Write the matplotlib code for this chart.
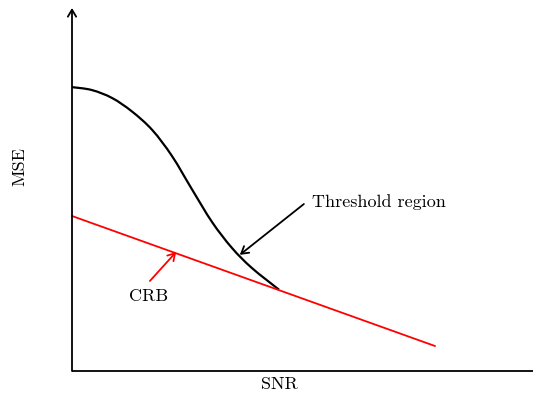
import matplotlib
matplotlib.use("Agg")
import matplotlib.pyplot as plt
from matplotlib.path import Path
from matplotlib.patches import PathPatch

# Data (arbitrary units)
mse_x = [0.0, 0.43, 0.87, 1.30, 1.74, 2.17, 2.60, 3.04, 3.47, 3.90, 4.49]
mse_y = [7.82, 7.74, 7.52, 7.15, 6.64, 5.92, 5.01, 4.10, 3.39, 2.84, 2.24]
crb_x = [0.0, 7.87]
crb_y = [4.27, 0.69]

labels = {"x": "SNR", "y": "MSE", "thr": "Threshold region", "crb": "CRB"}

plt.rcParams['font.family'] = ['cmr10', 'DejaVu Serif']
plt.rcParams['axes.formatter.use_mathtext'] = True


def smooth_path(xs, ys):
    """Catmull-Rom curve through the given points, as cubic Bezier segments."""
    pts = list(zip(xs, ys))
    n = len(pts)
    verts = [pts[0]]
    codes = [Path.MOVETO]
    for i in range(n - 1):
        p0 = pts[i - 1] if i > 0 else pts[i]
        p1 = pts[i]
        p2 = pts[i + 1]
        p3 = pts[i + 2] if i + 2 < n else pts[i + 1]
        c1 = (p1[0] + (p2[0] - p0[0]) / 6, p1[1] + (p2[1] - p0[1]) / 6)
        c2 = (p2[0] - (p3[0] - p1[0]) / 6, p2[1] - (p3[1] - p1[1]) / 6)
        verts += [c1, c2, p2]
        codes += [Path.CURVE4] * 3
    return Path(verts, codes)


fig = plt.figure(figsize=(5.34, 3.96), dpi=100)
ax = fig.add_axes([72/534, (396-371)/396, (533-72)/534, (371-8)/396])
ax.set_xlim(0, 10)
ax.set_ylim(0, 10)
for s in ax.spines.values():
    s.set_visible(False)
ax.set_xticks([])
ax.set_yticks([])
ax.patch.set_alpha(0)

# axes
ax.plot([0, 10], [0, 0], color='black', lw=1.3, clip_on=False, solid_capstyle='butt')
ax.annotate('', xy=(0, 10), xytext=(0, 0), annotation_clip=False,
            arrowprops=dict(arrowstyle='->,head_length=0.5,head_width=0.3', color='black', lw=1.3,
                            shrinkA=0, shrinkB=0))

ax.add_patch(PathPatch(smooth_path(mse_x, mse_y), fill=False, edgecolor='black',
                       lw=1.6, clip_on=False))
ax.plot(crb_x, crb_y, color='red', lw=1.3, clip_on=False)

# annotations
ax.annotate('', xy=(3.64, 3.2), xytext=(5.03, 4.6),
            arrowprops=dict(arrowstyle='->,head_length=0.5,head_width=0.3', color='black', lw=1.3,
                            shrinkA=0, shrinkB=0))
ax.text(5.2, 4.65, labels["thr"], fontsize=13, ha='left', va='center')

ax.annotate('', xy=(2.26, 3.28), xytext=(1.69, 2.48),
            arrowprops=dict(arrowstyle='->,head_length=0.5,head_width=0.3', color='red', lw=1.3,
                            shrinkA=0, shrinkB=0))
ax.text(1.67, 2.06, labels["crb"], fontsize=13, ha='center', va='center')

fig.text(279/534, 1 - 384/396, labels["x"], fontsize=13, ha='center', va='center')
fig.text(20/534, 1 - 167/396, labels["y"], fontsize=13, ha='center', va='center', rotation=90)

fig.savefig('out.png', dpi=100)
